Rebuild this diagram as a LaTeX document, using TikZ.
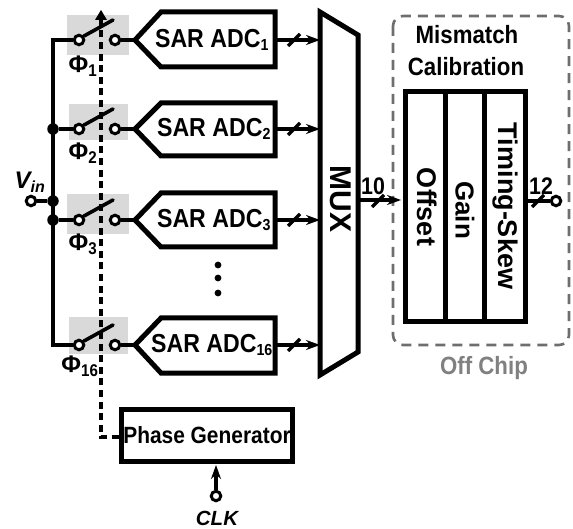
\documentclass[tikz,border=0pt]{standalone}
\usepackage{fontspec}
\setmainfont{Liberation Sans Bold}
\newfontfamily\narrowf[FakeStretch=0.89]{Liberation Sans Bold}
\usetikzlibrary{arrows.meta}
\newcommand{\fs}[1]{\fontsize{#1}{#1}\selectfont}
\definecolor{swgray}{RGB}{217,217,217}
\definecolor{boxgray}{RGB}{110,110,110}
\definecolor{txtgray}{RGB}{128,128,128}
\tikzset{
 x=1pt,y=-1pt,
 wire/.style={line width=3.6pt,black},
 blockline/.style={line width=5pt,black,line join=round},
 term/.style={circle,draw=black,line width=3pt,fill=white,minimum size=9.5pt,inner sep=0pt},
 jun/.style={circle,fill=black,minimum size=11.5pt,inner sep=0pt},
 lab/.style={inner sep=0pt},
 swbox/.style={fill=swgray,draw=none},
 arr/.style={wire,-{Stealth[length=14pt,width=10pt]}},
 slash/.style={line width=3.2pt,black},
 blade/.style={line width=3.6pt,black,line cap=round},
 ctrl/.style={line width=4pt,black,dash pattern=on 7pt off 4.6pt},
}
\begin{document}
\begin{tikzpicture}
\useasboundingbox (0,0) rectangle (573,529);
% gray switch backgrounds
\fill[swbox] (67,15) rectangle (129,55);
\fill[swbox] (69,104) rectangle (128,140);
\fill[swbox] (67,194) rectangle (129,234);
\fill[swbox] (69,317) rectangle (128,354);
% named points
\coordinate (b1) at (53,40);
\coordinate (b16) at (53,345);
\node[jun] (j2) at (53,129) {};
\node[jun] (jv) at (53,201) {};
\node[jun] (j3) at (53,220) {};
\node[term] (vin) at (31,201) {};
\draw[wire] ([yshift=1.8pt]b1) -- ([yshift=-1.8pt]b16);
\draw[wire] (vin) -- (jv);
\foreach \n/\y/\top/\bot/\sb/\tx/\px/\py in {1/40/12/67/1/212/83/66,2/129/103/156/2/214/83/153,3/220/193/247/3/214/83/244,16/345/318/373/16/212/80/366}{
  \node[term] (sl\n) at (79,\y) {};
  \node[term] (sr\n) at (115,\y) {};
  \coordinate (tip\n) at (135,\y);
  \coordinate (out\n) at (275,\y);
  \coordinate (mi\n) at (320,\y);
  \draw[blockline,line join=miter,fill=white] (tip\n) -- (161,\top) -- (275,\top) -- (275,\bot) -- (161,\bot) -- cycle;
  \node[lab,font=\fs{26}\narrowf] (adc\n) at (\tx,\y) {SAR ADC$_{\mbox{\fs{16}\narrowf\sb}}$};
  \draw[wire] (sr\n) -- (tip\n);
  \draw[blade] (sl\n) ++(5,-4) -- ++(29,-16);
  \draw[arr] (out\n) -- (mi\n);
  \draw[slash] (288,\y+6) -- (300,\y-6);
  \node[lab,font=\fs{24}] (ph\n) at (\px,\py) {$\mbox{Φ}_{\mbox{\fs{17}\narrowf\sb}}$};
}
\draw[wire] (b1) -- (sl1);
\draw[wire] (j2) -- (sl2);
\draw[wire] (j3) -- (sl3);
\draw[wire] (b16) -- (sl16);
% mux
\draw[blockline,line join=miter] (320,12) -- (358,35) -- (358,352) -- (320,375) -- cycle;
\node[rotate=-90,lab,font=\fs{30}] (mux) at (341,199) {MUX};
% ellipsis
\foreach \y in {265,278,293} \fill (218,\y) circle (3.4pt);
% calibration
\draw[boxgray,line width=2.6pt,dash pattern=on 10pt off 7pt,rounded corners=10pt] (393,16) rectangle (569,345);
\node[lab,font=\fs{25}\narrowf] (mm) at (467,35) {Mismatch};
\node[lab,font=\fs{25}\narrowf] (cal) at (466,67) {Calibration};
\draw[blockline,line join=miter] (405,92) rectangle (525,322);
\draw[blockline] (445,92) -- (445,322);
\draw[blockline] (484,92) -- (484,322);
\node[rotate=-90,lab,font=\fs{27}] (off) at (427,207) {Offset};
\node[rotate=-90,lab,font=\fs{26}] (gain) at (465,210) {Gain};
\node[rotate=-90,lab,font=\fs{27}] (ts) at (505,206) {Timing-Skew};
\coordinate (mo) at (358,200);
\coordinate (ci) at (401,200);
\draw[arr] (mo) -- (ci);
\draw[slash] (372,207) -- (384,195);
\node[lab,font=\fs{24}\narrowf] (n10) at (373,186) {10};
\coordinate (co) at (525,201);
\node[term] (oc) at (556,201) {};
\draw[wire] (co) -- (oc);
\draw[slash] (532,207) -- (544,195);
\node[lab,font=\fs{24}\narrowf] (n12) at (541,186) {12};
\node[lab,font=\fs{25}\narrowf,text=txtgray] (chip) at (484,368) {Off Chip};
% phase generator
\node[draw=black,line width=5pt,minimum width=171pt,minimum height=52pt,inner sep=0pt,font=\fs{23.5}\narrowf] (pg) at (207,435) {Phase Generator};
\coordinate (ctop) at (101,20);
\coordinate (ccor) at (101,437);
\draw[ctrl] (pg.west|-ccor) -- (ccor) -- (ctop);
\fill (101,10) -- (107,20) -- (95,20) -- cycle;
% clk
\node[term] (clkt) at (216,496) {};
\draw[arr] (clkt) -- (216,465);
\node[lab,font=\fs{20.5}\itshape] (clk) at (217,518) {CLK};
\node[lab,font=\fs{24}\itshape] (vl) at (30,182) {$\mbox{V}_{\mbox{\fs{16}in}}$};
\end{tikzpicture}
\end{document}
